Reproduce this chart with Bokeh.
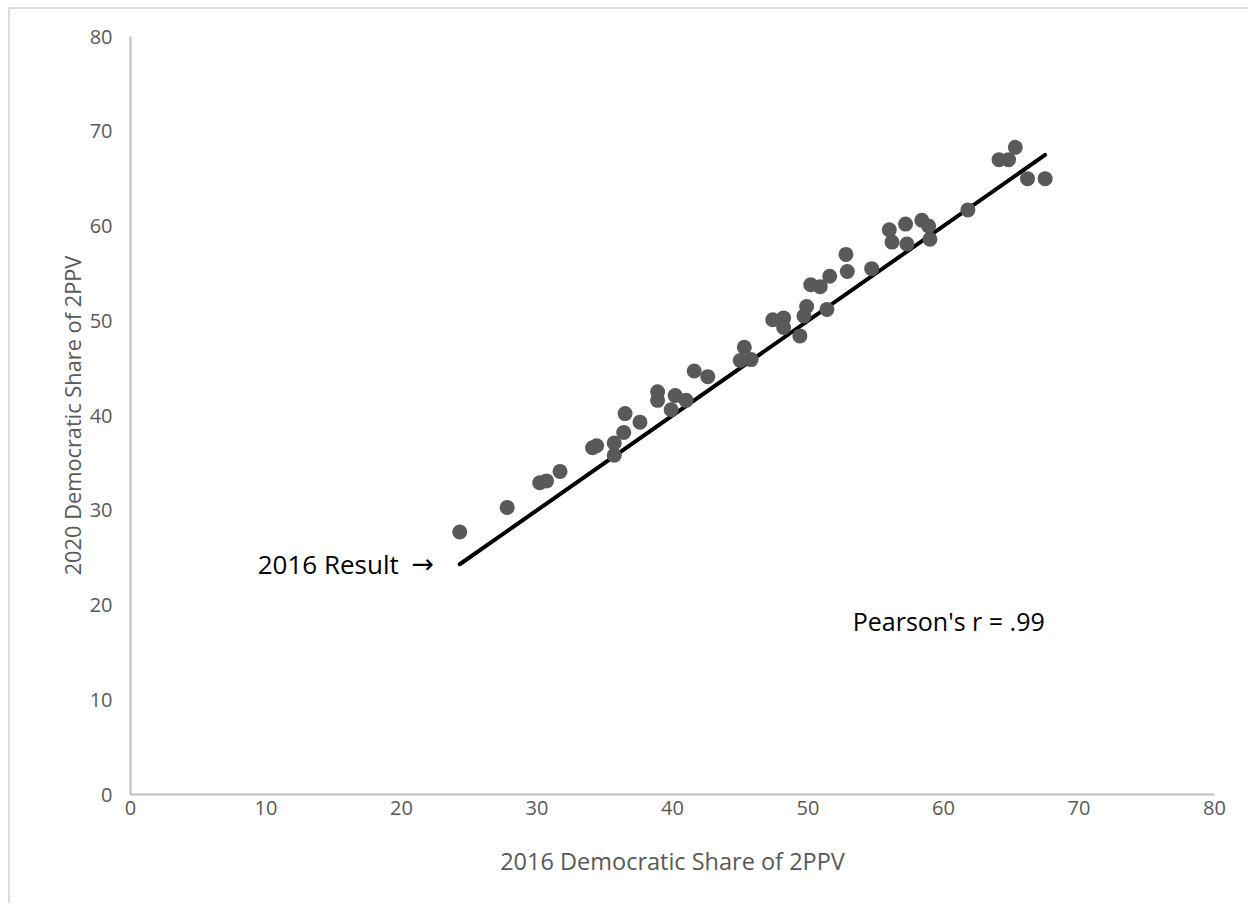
from bokeh.plotting import figure
from bokeh.models import Range1d, ColumnDataSource, FixedTicker, Label
from bokeh.embed import file_html
from bokeh.resources import INLINE

# 2016 vs 2020 Democratic share of two-party popular vote (by state)
dem_2016 = [24.3, 27.8, 30.2, 30.7, 31.7, 34.1, 34.4, 35.7, 35.7, 36.4,
            36.5, 37.6, 38.9, 38.9, 39.9, 40.2, 41.0, 41.6, 42.6, 45.0,
            45.3, 45.8, 47.4, 48.2, 48.2, 49.4, 49.7, 49.9, 51.4, 50.2,
            50.9, 51.6, 52.8, 52.9, 54.7, 56.0, 56.2, 57.2, 57.3, 58.4,
            58.9, 59.0, 61.8, 64.1, 64.8, 65.3, 66.2, 67.5]
dem_2020 = [27.7, 30.3, 32.9, 33.1, 34.1, 36.6, 36.8, 37.1, 35.8, 38.2,
            40.2, 39.3, 42.5, 41.6, 40.6, 42.1, 41.6, 44.7, 44.1, 45.8,
            47.2, 45.9, 50.1, 50.3, 49.3, 48.4, 50.5, 51.5, 51.2, 53.8,
            53.6, 54.7, 57.0, 55.2, 55.5, 59.6, 58.3, 60.2, 58.1, 60.6,
            60.0, 58.6, 61.7, 67.0, 67.0, 68.3, 65.0, 65.0]
ticks = [0, 10, 20, 30, 40, 50, 60, 70, 80]
x_title = "2016 Democratic Share of 2PPV"
y_title = "2020 Democratic Share of 2PPV"
ref_label = "2016 Result"
arrow = "\u2192"
corr_label = "Pearson's r = .99"

FONT = "Open Sans"
GRAY = "#595959"

p = figure(width=1240, height=896, output_backend="svg", toolbar_location=None,
           x_range=Range1d(0, 80), y_range=Range1d(0, 80),
           min_border_left=120, min_border_right=36,
           min_border_top=27, min_border_bottom=111)
p.styles = {"margin-left": "8px", "margin-top": "7px",
            "border-top": "2px solid #dcdcdc", "border-left": "2px solid #dcdcdc"}
p.outline_line_color = None
p.xgrid.grid_line_color = None
p.ygrid.grid_line_color = None

for ax in (p.xaxis[0], p.yaxis[0]):
    ax.ticker = FixedTicker(ticks=ticks)
    ax.axis_line_color = "#bfbfbf"
    ax.axis_line_width = 2
    ax.major_tick_line_color = None
    ax.minor_tick_line_color = None
    ax.major_label_text_font = FONT
    ax.major_label_text_font_size = "20px"
    ax.major_label_text_color = GRAY
    ax.axis_label_text_font = FONT
    ax.axis_label_text_color = GRAY
    ax.axis_label_text_font_style = "normal"

p.xaxis.axis_label = x_title
p.xaxis.axis_label_text_font_size = "23.5px"
p.xaxis.major_label_standoff = 0
p.xaxis.axis_label_standoff = 27

p.yaxis.axis_label = y_title
p.yaxis.axis_label_text_font_size = "21.8px"
p.yaxis.major_label_standoff = 12
p.yaxis.axis_label_standoff = 0

# reference line (y = x) over the span of the data
lo, hi = min(dem_2016), max(dem_2016)
p.line([lo, hi], [lo, hi], line_color="black", line_width=4, line_cap="round")

src = ColumnDataSource(dict(x=dem_2016, y=dem_2020))
p.scatter("x", "y", source=src, size=15, fill_color=GRAY, line_color=None)

p.add_layout(Label(x=lo, y=lo, x_offset=-61, text=ref_label,
                   text_align="right", text_baseline="middle",
                   text_font=FONT, text_font_size="26px", text_color="black"))
p.add_layout(Label(x=lo, y=lo, x_offset=-37, y_offset=1, text=arrow,
                   text_align="center", text_baseline="middle",
                   text_font="DejaVu Sans", text_font_size="27px", text_color="black"))
p.add_layout(Label(x=53.3, y=18.35, text=corr_label,
                   text_align="left", text_baseline="middle",
                   text_font=FONT, text_font_size="25px", text_color="black"))

open("out.html", "w").write(file_html(p, INLINE))
